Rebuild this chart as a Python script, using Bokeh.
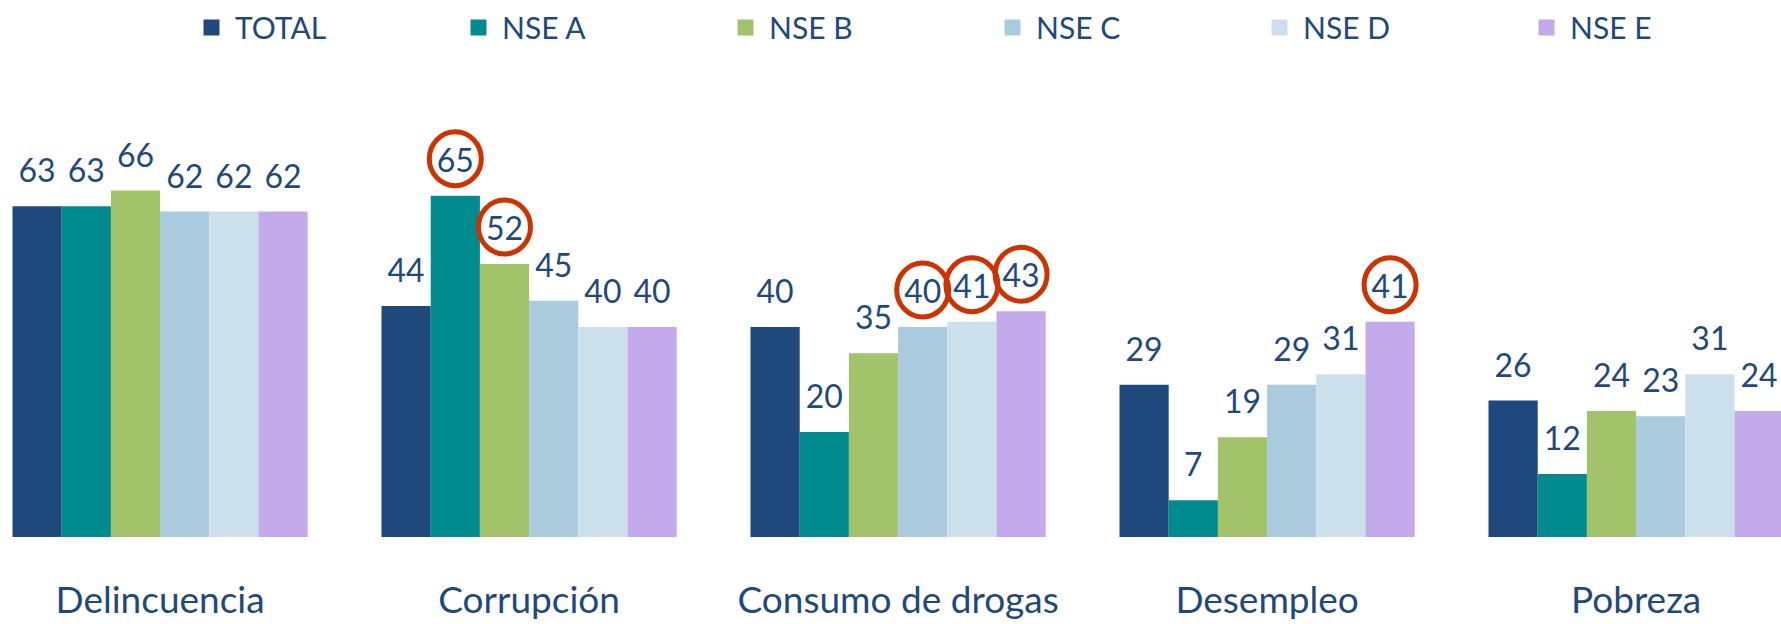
from bokeh.plotting import figure
from bokeh.models import Range1d, Legend, LegendItem, ColumnDataSource
from bokeh.core.properties import value
from bokeh.embed import file_html
from bokeh.resources import INLINE

# ---- data ----
categories = ["Delincuencia", "Corrupción", "Consumo de drogas", "Desempleo", "Pobreza"]
series = ["TOTAL", "NSE A", "NSE B", "NSE C", "NSE D", "NSE E"]
total = [63, 44, 40, 29, 26]
nse_a = [63, 65, 20, 7, 12]
nse_b = [66, 52, 35, 19, 24]
nse_c = [62, 45, 40, 29, 23]
nse_d = [62, 40, 41, 31, 31]
nse_e = [62, 40, 43, 41, 24]
highlighted = [
    ("Corrupción", "NSE A"),
    ("Corrupción", "NSE B"),
    ("Consumo de drogas", "NSE C"),
    ("Consumo de drogas", "NSE D"),
    ("Consumo de drogas", "NSE E"),
    ("Desempleo", "NSE E"),
]

# ---- style ----
colors = ["#1F497D", "#008B8F", "#A2C36A", "#A9CBDD", "#CCE0EB", "#C3AAEA"]
text_color = "#1F497D"
ring_color = "#CC3300"
FONT = "Lato"

W, H = 1781, 624
px_x = 369.0           # pixels per category
first_center = 159.6   # px of first category center within frame
base_px = 536.5        # px from top of frame to baseline
px_y = 5.25            # pixels per unit value

x_start = -first_center / px_x
x_end = x_start + W / px_x
y_end = base_px / px_y
y_start = -(H - base_px) / px_y

p = figure(width=W, height=H, output_backend="svg", toolbar_location=None,
           x_range=Range1d(x_start, x_end), y_range=Range1d(y_start, y_end),
           min_border=0, outline_line_color=None)
p.xaxis.visible = False
p.yaxis.visible = False
p.xgrid.visible = False
p.ygrid.visible = False

values = [total, nse_a, nse_b, nse_c, nse_d, nse_e]
n = len(series)
bw = 0.8 / n

lab_x, lab_y, lab_t = [], [], []
ring_x, ring_y = [], []
items = []
for j, (s, vals) in enumerate(zip(series, values)):
    xs = [i + (j - (n - 1) / 2) * bw for i in range(len(categories))]
    src = ColumnDataSource(dict(x=xs, top=vals))
    r = p.vbar(x="x", top="top", width=bw, bottom=0, source=src,
               fill_color=colors[j], line_color=None)
    items.append(LegendItem(label=s, renderers=[r]))
    for i, c in enumerate(categories):
        lab_x.append(xs[i])
        lab_y.append(vals[i])
        lab_t.append(str(vals[i]))
        if (c, s) in highlighted:
            ring_x.append(xs[i])
            ring_y.append(vals[i] + 37 / px_y)

p.text(x=lab_x, y=lab_y, text=lab_t, text_align="center", text_baseline="alphabetic",
       y_offset=-36, text_font=value(FONT), text_font_size="32px", text_color=text_color)

p.ellipse(x=ring_x, y=ring_y, width=52, height=54, width_units="screen",
          height_units="screen", fill_color=None, line_color=ring_color, line_width=5)

p.text(x=list(range(len(categories))), y=[0] * len(categories), text=categories,
       text_align="center", text_baseline="alphabetic", y_offset=61,
       text_font=value(FONT), text_font_size="37px", text_color=text_color)

legend = Legend(items=items, orientation="horizontal", location=(201, 579),
                padding=0, margin=0, spacing=0, glyph_width=20, glyph_height=20,
                label_standoff=14, label_width=233, label_height=20,
                border_line_color=None, background_fill_alpha=0,
                label_text_font=FONT, label_text_font_size="30px",
                label_text_color=text_color)
p.add_layout(legend)

open("out.html", "w").write(file_html(p, INLINE))
